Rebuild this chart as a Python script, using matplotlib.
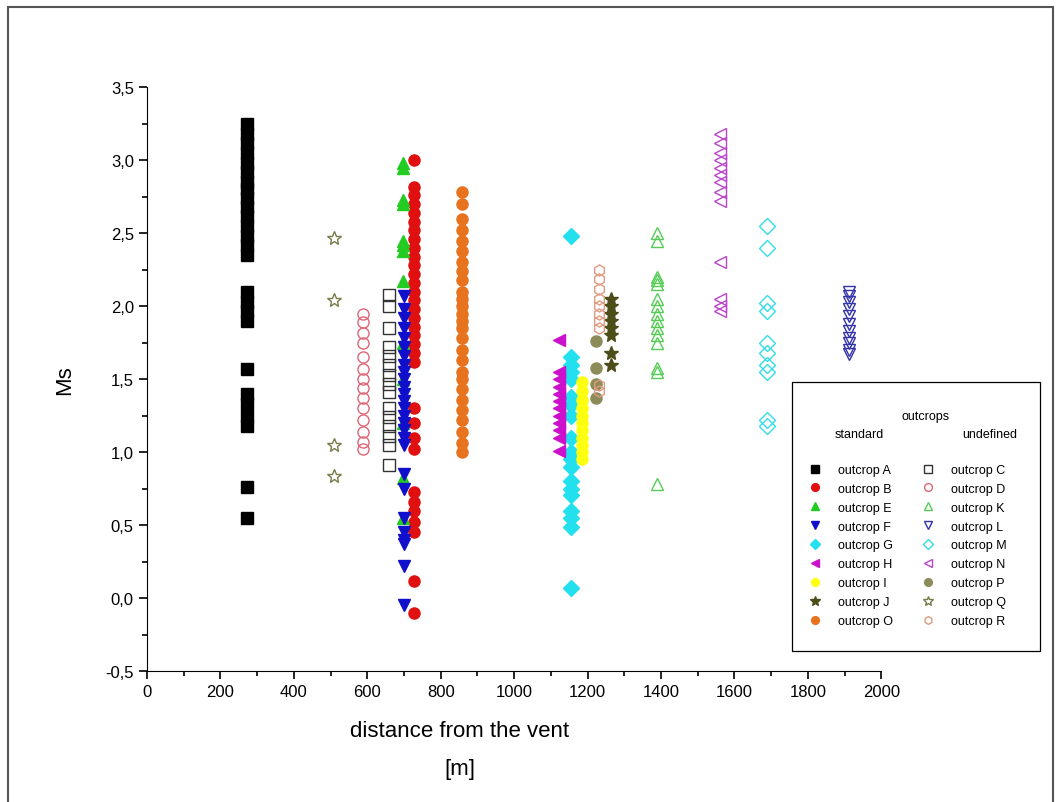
import matplotlib.pyplot as plt
from matplotlib.patches import Rectangle
from matplotlib.ticker import MultipleLocator, FuncFormatter

plt.rcParams['font.family'] = ['Liberation Sans', 'DejaVu Sans']

# distance from the vent for each outcrop
x_pos = {'A': 272, 'B': 727, 'C': 658, 'D': 588, 'E': 697, 'F': 700, 'G': 1155,
         'H': 1122, 'I': 1185, 'J': 1265, 'K': 1390, 'L': 1912, 'M': 1690,
         'N': 1562, 'O': 858, 'P': 1222, 'Q': 510, 'R': 1232}

ms_A = [3.25, 3.18, 3.12, 3.05, 2.98, 2.92, 2.85, 2.8, 2.74, 2.68, 2.62, 2.55, 2.48,
        2.42, 2.35, 2.1, 2.03, 1.97, 1.9, 1.57, 1.4, 1.33, 1.25, 1.18, 0.76, 0.55]
ms_B = [3.0, 2.82, 2.76, 2.7, 2.64, 2.58, 2.52, 2.46, 2.4, 2.34, 2.28, 2.22, 2.16, 2.1,
        2.04, 1.98, 1.92, 1.86, 1.8, 1.74, 1.68, 1.62, 1.3, 1.2, 1.1, 1.02, 0.73,
        0.66, 0.6, 0.52, 0.45, 0.12, -0.1]
ms_C = [2.08, 2.0, 1.85, 1.72, 1.66, 1.6, 1.53, 1.47, 1.41, 1.3, 1.24, 1.18, 1.11,
        1.05, 0.91]
ms_D = [1.95, 1.89, 1.82, 1.75, 1.65, 1.57, 1.5, 1.44, 1.37, 1.3, 1.22, 1.14, 1.07, 1.02]
ms_E = [2.98, 2.95, 2.73, 2.7, 2.45, 2.42, 2.38, 2.17, 1.75, 1.5, 1.2, 0.82, 0.55]
ms_F = [2.07, 1.98, 1.92, 1.85, 1.78, 1.72, 1.66, 1.6, 1.55, 1.5, 1.45, 1.4, 1.35,
        1.3, 1.25, 1.2, 1.15, 1.1, 1.05, 0.85, 0.75, 0.55, 0.45, 0.4, 0.37, 0.22, -0.05]
ms_G = [2.48, 1.65, 1.6, 1.55, 1.5, 1.38, 1.32, 1.25, 1.1, 1.0, 0.95, 0.9, 0.8, 0.75,
        0.71, 0.6, 0.55, 0.49, 0.07]
ms_H = [1.77, 1.55, 1.5, 1.45, 1.4, 1.35, 1.3, 1.25, 1.2, 1.15, 1.1, 1.01]
ms_I = [1.48, 1.42, 1.36, 1.3, 1.25, 1.2, 1.15, 1.1, 1.05, 1.0, 0.95]
ms_J = [2.05, 2.0, 1.95, 1.9, 1.85, 1.8, 1.68, 1.6]
ms_K = [2.5, 2.45, 2.2, 2.18, 2.15, 2.05, 2.0, 1.95, 1.9, 1.85, 1.8, 1.75, 1.58,
        1.55, 0.78]
ms_L = [2.1, 2.07, 2.03, 1.98, 1.93, 1.88, 1.83, 1.78, 1.75, 1.7, 1.67]
ms_M = [2.55, 2.4, 2.02, 1.97, 1.75, 1.68, 1.6, 1.55, 1.22, 1.18]
ms_N = [3.18, 3.12, 3.05, 3.0, 2.95, 2.9, 2.85, 2.78, 2.72, 2.3, 2.05, 2.0, 1.97]
ms_O = [2.78, 2.7, 2.6, 2.52, 2.45, 2.38, 2.3, 2.24, 2.18, 2.1, 2.05, 2.0, 1.95, 1.9,
        1.85, 1.78, 1.7, 1.63, 1.55, 1.5, 1.43, 1.36, 1.29, 1.22, 1.14, 1.06, 1.0]
ms_P = [1.76, 1.58, 1.47, 1.37]
ms_Q = [2.47, 2.04, 1.05, 0.84]
ms_R = [2.25, 2.19, 2.12, 2.05, 2.0, 1.95, 1.9, 1.85, 1.46, 1.42]

ms_data = {'A': ms_A, 'B': ms_B, 'C': ms_C, 'D': ms_D, 'E': ms_E, 'F': ms_F,
           'G': ms_G, 'H': ms_H, 'I': ms_I, 'J': ms_J, 'K': ms_K, 'L': ms_L,
           'M': ms_M, 'N': ms_N, 'O': ms_O, 'P': ms_P, 'Q': ms_Q, 'R': ms_R}

# (marker, colour, filled)
styles = {'A': ('s', '#000000', True), 'B': ('o', '#e01010', True),
          'E': ('^', '#22cc22', True), 'F': ('v', '#1010cc', True),
          'G': ('D', '#22e0ee', True), 'H': ('<', '#cc10cc', True),
          'I': ('o', '#ffff10', True), 'J': ('*', '#4d4d1a', True),
          'O': ('o', '#e8731e', True),
          'C': ('s', '#333333', False), 'D': ('o', '#dd6677', False),
          'K': ('^', '#55cc55', False), 'L': ('v', '#3333aa', False),
          'M': ('D', '#33dde8', False), 'N': ('<', '#bb44cc', False),
          'P': ('o', '#8c8c5a', True), 'Q': ('*', '#7a7a4a', False),
          'R': ('h', '#e09a80', False)}

standard = ['A', 'B', 'E', 'F', 'G', 'H', 'I', 'J', 'O']
undefined = ['C', 'D', 'K', 'L', 'M', 'N', 'P', 'Q', 'R']

fig = plt.figure(figsize=(10.61, 8.03), dpi=100)
ax = fig.add_axes([0.1386, 0.163, 0.692, 0.727])

handles = []
for key in standard + undefined:
    mk, col, filled = styles[key]
    size = 10.5 if mk == '*' else 8
    h, = ax.plot([x_pos[key]] * len(ms_data[key]), ms_data[key], ls='none',
                 marker=mk, markersize=size, color=col,
                 markerfacecolor=col if filled else 'none',
                 markeredgewidth=1.0, label='outcrop ' + key)
    handles.append(h)

ax.set_xlim(0, 2000)
ax.set_ylim(-0.5, 3.5)
ax.spines['top'].set_visible(False)
ax.spines['right'].set_visible(False)
ax.xaxis.set_major_locator(MultipleLocator(200))
ax.xaxis.set_minor_locator(MultipleLocator(100))
ax.yaxis.set_major_locator(MultipleLocator(0.5))
ax.yaxis.set_minor_locator(MultipleLocator(0.25))
ax.yaxis.set_major_formatter(FuncFormatter(lambda v, p: f'{v:.1f}'.replace('.', ',')))
ax.tick_params(which='major', direction='out', length=6, width=1.2, labelsize=12)
ax.tick_params(which='minor', direction='out', length=3.5, width=1.2)
ax.set_xlabel('distance from the vent\n[m]', fontsize=16, linespacing=2.1)
ax.xaxis.set_label_coords(0.426, -0.083)
ax.set_ylabel('Ms', fontsize=16, labelpad=22)

# legend box drawn by hand so the header rows can sit above the entries
fig.patches.append(Rectangle((0.7465, 0.188), 0.2337, 0.335, transform=fig.transFigure,
                             fill=False, edgecolor='black', linewidth=0.9))
fig.text(0.872, 1 - 417 / 803, 'outcrops', fontsize=9, ha='center', va='center')
fig.text(0.810, 1 - 435 / 803, 'standard', fontsize=9, ha='center', va='center')
fig.text(0.933, 1 - 435 / 803, 'undefined', fontsize=9, ha='center', va='center')

leg = fig.legend(handles=handles, ncol=2, loc='upper left',
                 bbox_to_anchor=(0.7623, 0.421), bbox_transform=fig.transFigure,
                 fontsize=9, frameon=False, labelspacing=0.55, columnspacing=2.3,
                 handlelength=1.0, handletextpad=1.34, borderpad=0,
                 borderaxespad=0, markerscale=0.7)

fig.patches.append(Rectangle((0.008, -0.01), 0.984, 1.0, transform=fig.transFigure,
                             fill=False, edgecolor='#555555', linewidth=1.5))

fig.savefig('out.png', dpi=100)
